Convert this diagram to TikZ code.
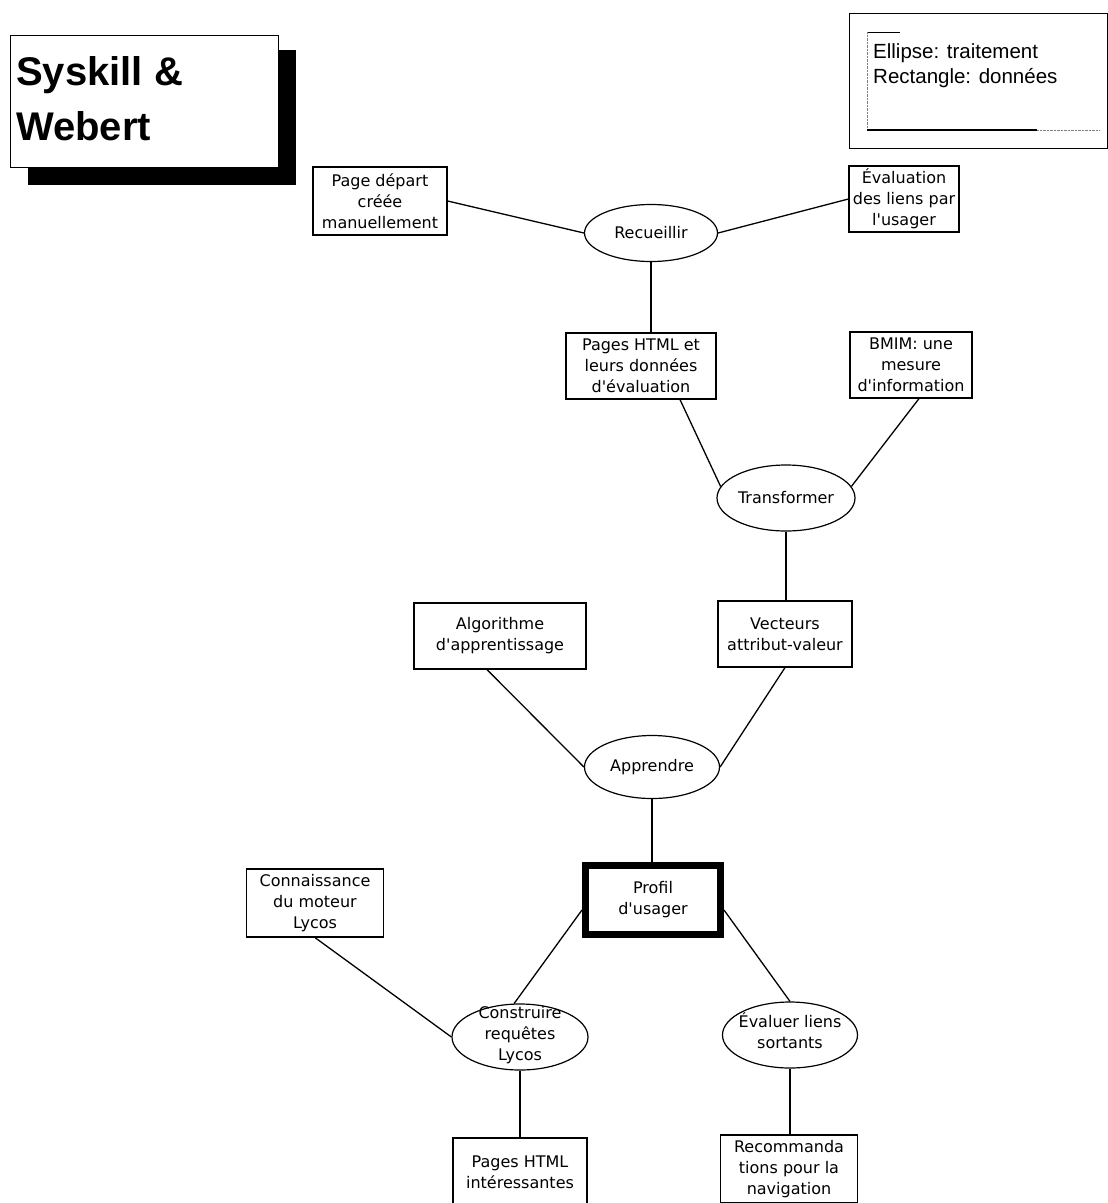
\documentclass[tikz,border=0pt]{standalone}
\usepackage{fontspec}
\setmainfont{DejaVu Sans}[Ligatures=TeXOff]
\newfontfamily\legendfont{Liberation Sans}
\usetikzlibrary{shapes.geometric}

% several lines inside a fixed ellipse
\newcommand{\proclines}[1]{\smash{\raisebox{-3pt}{\makebox[0pt]{\begin{tabular}{@{}c@{}}#1\end{tabular}}}}}

\begin{document}
\begin{tikzpicture}[x=1pt,y=-1pt,
    data/.style={draw, rectangle, line width=1.2pt, inner sep=0pt, align=center, font=\fontsize{16}{21}\selectfont},
    proc/.style={draw, ellipse, line width=1.2pt, inner sep=0pt, minimum width=135pt, minimum height=64pt, align=center, font=\fontsize{16}{21}\selectfont},
    link/.style={line width=1.3pt}]
            \useasboundingbox (0,0) rectangle (1108,1203);

            % Draw the title with its shadow
            \fill (28,50) rectangle (296,185);
            \draw[fill=white, line width=1pt] (10,35) rectangle (278,167);
            \node[anchor=base west, inner sep=0pt, font=\legendfont\bfseries\fontsize{40}{48}\selectfont] (title1) at (16,85) {Syskill \&};
            \node[anchor=base west, inner sep=0pt, font=\legendfont\bfseries\fontsize{40}{48}\selectfont] (title2) at (16,140) {Webert};

            % Draw the legend
            \draw[line width=1pt] (849,13) rectangle (1107,148);
            \draw[line width=1pt] (867,32) -- (900,32);
            \draw[densely dotted, gray] (867,32) -- (867,130);
            \draw[line width=1.2pt] (867,130) -- (1037,130);
            \draw[densely dotted, gray] (1037,130) -- (1100,130);
            \node[anchor=base west, inner sep=0pt, font=\legendfont\fontsize{20.5}{25}\selectfont] (legend1) at (873,58) {Ellipse: traitement};
            \node[anchor=base west, inner sep=0pt, font=\legendfont\fontsize{20.5}{25}\selectfont] (legend2) at (873,83) {Rectangle: données};

            % Recueillir
            \node[data, minimum width=134pt, minimum height=68pt] (depart) at (380,201) {Page départ\\créée\\manuellement};
            \node[data, minimum width=110pt, minimum height=66pt] (evalusager) at (904,199) {Évaluation\\des liens par\\l'usager};
            \node[proc, minimum width=133pt, minimum height=57pt] (recueillir) at (651,233) {Recueillir};
            \node[data, minimum width=150pt, minimum height=66pt] (pageshtml) at (641,366) {Pages HTML et\\leurs données\\d'évaluation};

            % Transformer
            \node[data, minimum width=122pt, minimum height=66pt] (bmim) at (911,365) {BMIM: une\\mesure\\d'information};
            \node[proc, minimum width=138pt, minimum height=66pt] (transformer) at (786,498) {Transformer};
            \node[data, minimum width=134pt, minimum height=66pt] (vecteurs) at (785,634) {Vecteurs\\attribut-valeur};

            % Apprendre
            \node[data, minimum width=172pt, minimum height=66pt] (algo) at (500,636) {Algorithme\\d'apprentissage};
            \node[proc, minimum width=135pt, minimum height=63pt] (apprendre) at (652,767) {Apprendre};
            \node[data, line width=7pt, minimum width=135pt, minimum height=69pt] (profil) at (653,900) {Profil\\d'usager};

            % Construire et evaluer
            \node[data, minimum width=137pt, minimum height=68pt] (connaissance) at (315,903) {Connaissance\\du moteur\\Lycos};
            \node[proc, minimum width=136pt, minimum height=66pt] (construire) at (520,1037) {\proclines{Construire\\requêtes\\Lycos}};
            \node[proc, minimum width=135pt, minimum height=66pt] (evaluer) at (790,1035) {\proclines{Évaluer liens\\sortants}};
            \node[data, minimum width=134pt, minimum height=68pt] (pagesint) at (520,1172) {Pages HTML\\intéressantes};
            \node[data, minimum width=137pt, minimum height=68pt] (recom) at (789,1169) {Recommanda\\tions pour la\\navigation};

            % Draw the links
            \draw[link] (depart.east) -- (recueillir.west);
            \draw[link] (recueillir.east) -- (evalusager.west);
            \draw[link] (recueillir.south) -- (recueillir.south |- pageshtml.north);
            \draw[link] ([xshift=39pt]pageshtml.south) -- (transformer.170);
            \draw[link] ([xshift=8pt]bmim.south) -- (transformer.10);
            \draw[link] (transformer.south) -- (transformer.south |- vecteurs.north);
            \draw[link] ([xshift=-13pt]algo.south) -- (apprendre.west);
            \draw[link] (vecteurs.south) -- (apprendre.east);
            \draw[link] (apprendre.south) -- (apprendre.south |- profil.north);
            \draw[link] (connaissance.south) -- (construire.west);
            \draw[link] ([yshift=-10pt]profil.west) -- (construire.100);
            \draw[link] ([yshift=-10pt]profil.east) -- (evaluer.north);
            \draw[link] (construire.south) -- (pagesint.north);
            \draw[link] (evaluer.south) -- (evaluer.south |- recom.north);

        \end{tikzpicture}
\end{document}
